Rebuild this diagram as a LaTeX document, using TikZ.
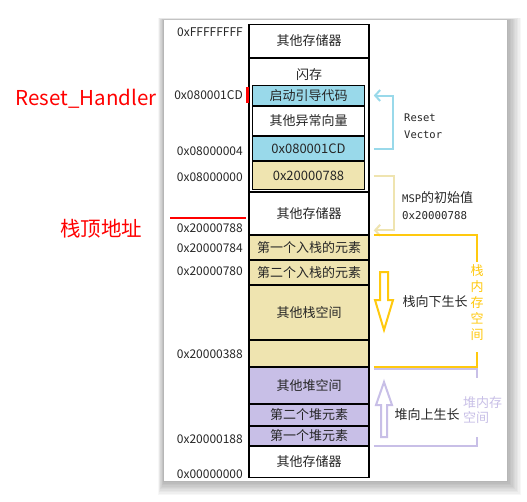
\documentclass[tikz,border=0pt]{standalone}
\usepackage{fontspec}
\setmainfont{Noto Sans CJK SC}
\newfontfamily\monofont{DejaVu Sans Mono}
\usetikzlibrary{arrows.meta}

\definecolor{vecblue}{HTML}{99D9EA}
\definecolor{msptan}{HTML}{EFE4B0}
\definecolor{heaplilac}{HTML}{C8BFE7}
\definecolor{stackgold}{HTML}{FFC90E}

\begin{document}
\begin{tikzpicture}[x=1pt, y=-1pt,
    blk/.style={draw=black, line width=1.6pt, minimum width=120pt, inner sep=0pt,
        text=black!85, font=\fontsize{13}{15}\selectfont},
    subblk/.style={blk, minimum width=112pt},
    addr/.style={anchor=east, inner sep=0pt, text=black!85,
        font=\fontsize{12}{13}\selectfont},
    note/.style={anchor=west, inner sep=0pt, align=left, text=black!85,
        font=\fontsize{13}{17}\selectfont},
    redtext/.style={inner sep=0pt, text=red, font=\fontsize{20.5}{24}\selectfont},
    vecline/.style={draw=vecblue, line width=2pt, -{Straight Barb[length=5pt,width=11pt]}},
    mspline/.style={draw=msptan, line width=2pt, -{Straight Barb[length=5pt,width=11pt]}},
    stackline/.style={draw=stackgold, line width=2pt},
    heapline/.style={draw=heaplilac, line width=2pt}
]
    \fill [white] (0,0) rectangle (527,501);
    \useasboundingbox (0,0) rectangle (527,501);
    % soft shadow round the panel
    \foreach \s in {1,...,10}
        \fill [black, opacity=0.03] (164-0.6*\s, 20-0.2*\s) rectangle (507+1.4*\s, 481+1.4*\s);
    \fill [white] (164,20) rectangle (507,481);

    % memory column
    \node [blk, minimum height=33pt] (topmem) at (309,41) {其他存储器};
    \node [blk, minimum height=133pt] (flash) at (309,125) {};
    \node [inner sep=0pt, text=black!85, font=\fontsize{13}{15}\selectfont] (flashlbl) at (309,75) {闪存};
    \node [subblk, fill=vecblue, minimum height=20pt] (boot) at (308.5,95.5) {启动引导代码};
    \node [subblk, fill=white, minimum height=29pt] (vectors) at (308.5,121) {其他异常向量};
    \node [subblk, fill=vecblue, minimum height=24pt] (resetvec) at (308.5,148.5) {0x080001CD};
    \node [subblk, fill=msptan, minimum height=28pt] (msp) at (308.5,175.5) {0x20000788};
    \node [blk, minimum height=42pt] (midmem) at (309,213.5) {其他存储器};
    \node [blk, fill=msptan, minimum height=24pt] (push1) at (309,247.5) {第一个入栈的元素};
    \node [blk, fill=msptan, minimum height=24pt] (push2) at (309,272.5) {第二个入栈的元素};
    \node [blk, fill=msptan, minimum height=54pt] (stackrest) at (309,312.5) {其他栈空间};
    \node [blk, fill=msptan, minimum height=26pt] (stackgap) at (309,353.5) {};
    \node [blk, fill=heaplilac, minimum height=36pt] (heaprest) at (309,385.5) {其他堆空间};
    \node [blk, fill=heaplilac, minimum height=21pt] (heap2) at (309,415) {第二个堆元素};
    \node [blk, fill=heaplilac, minimum height=19pt] (heap1) at (309,436) {第一个堆元素};
    \node [blk, minimum height=31pt] (botmem) at (309,462) {其他存储器};

    % addresses
    \node [addr] (a1) at (243,32) {0xFFFFFFFF};
    \node [addr] (a2) at (243,95) {0x080001CD};
    \node [addr] (a3) at (243,151) {0x08000004};
    \node [addr] (a4) at (243,177) {0x08000000};
    \node [addr] (a5) at (243,228) {0x20000788};
    \node [addr] (a6) at (243,248) {0x20000784};
    \node [addr] (a7) at (243,271) {0x20000780};
    \node [addr] (a8) at (243,354) {0x20000388};
    \node [addr] (a9) at (243,439) {0x20000188};
    \node [addr] (a10) at (243,474) {0x00000000};

    % red marks
    \node [redtext] (handler) at (86,99) {Reset\_Handler};
    \node [redtext] (sptop) at (101,229) {栈顶地址};
    \draw [red, line width=3pt] (247,87) -- (247,103);
    \draw [red, line width=2pt] (170,218) -- (246,218);

    % reset vector and MSP
    \draw [vecline] ([xshift=8.5pt]resetvec.east) -- ++(19,0) |- ([xshift=8.5pt]boot.east);
    \node [note, font=\monofont\fontsize{10.5}{17}\selectfont] (rvtxt) at (404,126) {Reset\\Vector};
    \draw [mspline] ([xshift=8.5pt]msp.east) -- ++(20,0) |- ([xshift=4pt,yshift=5pt]midmem.south east);
    \node [note] (msptxt) at (402,206) {{\monofont\fontsize{10.5}{17}\selectfont MSP}的初始值\\{\monofont\fontsize{10.8}{17}\selectfont 0x20000788}};

    % stack
    \draw [stackline] ([xshift=4pt]push1.north east) -- ++(103,0) -- ++(0,27);
    \draw [stackline] ([xshift=4pt]stackgap.south east) -- ++(103,0) -- ++(0,-15);
    \node [inner sep=0pt, align=center, text=stackgold, font=\fontsize{13}{16}\selectfont] (stacktxt) at (477,303) {栈\\内\\存\\空\\间};
    \draw [stackgold, line width=2pt, fill=white, line join=miter]
        (380,272) -- (388,272) -- (388,300) -- (393,300) -- (384,330) -- (375,300) -- (380,300) -- cycle;
    \node [inner sep=0pt, text=black!85, font=\fontsize{13}{15}\selectfont] (stackgrow) at (435,302) {栈向下生长};

    % heap
    \draw [heapline] ([xshift=4pt,yshift=-2pt]heaprest.north east) -- ++(103,0) -- ++(0,9);
    \draw [heapline] ([xshift=4pt]heap1.south east) -- ++(103,0) -- ++(0,-9);
    \node [inner sep=0pt, anchor=west, align=left, text=heaplilac, font=\fontsize{13}{15}\selectfont] (heaptxt) at (463,410) {堆内存\\空间};
    \draw [heaplilac, line width=2pt, fill=white, line join=miter]
        (381,437) -- (387,437) -- (387,405) -- (392,405) -- (384,382) -- (376,405) -- (381,405) -- cycle;
    \node [inner sep=0pt, text=black!85, font=\fontsize{13}{15}\selectfont] (heapgrow) at (427,415) {堆向上生长};
\end{tikzpicture}
\end{document}
